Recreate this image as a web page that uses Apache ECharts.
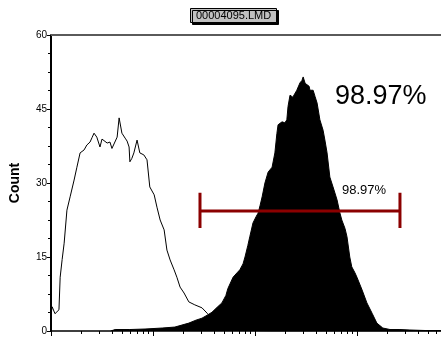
<!DOCTYPE html>
<html>
<head>
<meta charset="utf-8">
<script src="https://cdn.jsdelivr.net/npm/echarts@6/dist/echarts.min.js"></script>
<style>
  html, body { margin: 0; padding: 0; background: #fff; }
  #chart { width: 441px; height: 338px; }
</style>
</head>
<body>
<div id="chart"></div>
<script>
// 通道值 (256 通道 / 十进位, 对数显示)
const stainedChannel = [150, 161, 198, 236, 279, 311, 346, 364, 379, 392, 404, 417, 429, 439, 444, 457, 467, 474, 482, 487, 494, 499, 507, 515, 520, 525, 530, 537, 545, 550, 555, 562, 567, 570, 575, 580, 587, 592, 595, 600, 607, 612, 617, 625, 630, 633, 638, 643, 648, 650, 658, 663, 668, 675, 683, 688, 693, 700, 708, 718, 725, 730, 738, 743, 750, 755, 763, 768, 781, 793, 806, 818, 833, 851, 876, 901, 939, 979];
const stainedCount = [0, 0.3, 0.3, 0.4, 0.6, 0.8, 1.6, 2.2, 2.6, 3.2, 3.8, 4.8, 5.7, 7.2, 8.6, 10.9, 11.8, 12.4, 13.6, 15.0, 17.3, 19.1, 21.9, 23.2, 23.9, 25.5, 27.2, 30.0, 32.2, 32.6, 33.2, 36.1, 40.0, 41.8, 42.0, 42.4, 42.2, 42.8, 45.5, 47.8, 47.4, 47.0, 48.8, 50.3, 50.8, 51.5, 50.2, 50.5, 49.6, 48.8, 48.8, 47.5, 46.2, 42.8, 40.7, 38.5, 36.1, 31.2, 29.2, 26.6, 24.0, 22.5, 20.8, 19.1, 15.0, 13.0, 11.8, 10.9, 8.3, 5.7, 3.6, 1.6, 0.6, 0.3, 0.3, 0.2, 0.1, 0.1];

const controlChannel = [0, 3, 8, 10, 15, 20, 23, 28, 33, 40, 48, 58, 65, 73, 83, 90, 98, 103, 108, 115, 123, 128, 133, 141, 148, 153, 158, 166, 171, 178, 186, 191, 196, 198, 203, 208, 216, 223, 233, 241, 248, 259, 266, 274, 284, 291, 299, 309, 316, 324, 334, 346, 361, 379, 392, 404, 424, 449, 487, 550, 979];
const controlCount = [3.5, 4.9, 5.2, 3.5, 3.2, 4.3, 10.9, 14.5, 17.8, 24.5, 27.2, 30.6, 33.2, 36.1, 36.7, 37.7, 38.3, 39.2, 40.1, 39.3, 37.3, 38.9, 38.7, 38.1, 38.3, 37.0, 37.3, 39.3, 43.2, 40.1, 39.1, 38.5, 37.3, 34.3, 35.0, 36.1, 38.7, 36.1, 35.7, 34.7, 29.2, 27.6, 25.1, 22.5, 20.5, 16.4, 14.4, 12.4, 10.9, 8.9, 7.7, 5.9, 5.3, 4.7, 3.6, 2.5, 1.2, 0.5, 0.1, 0, 0];

// 门 (gate)
const gateRange = [374, 876];
const gateLevel = 24.3;
const gateCap = [20.9, 28.0];
const gatePercent = '98.97%';

// 坐标轴刻度
const yTicks = [0, 15, 30, 45, 60];
const xMajorTicks = [0, 256, 512, 768];
const xMinorTicks = [77, 122, 154, 179, 199, 216, 231, 244, 333, 378, 410, 435, 455, 472, 487, 500, 589, 634, 666, 691, 711, 728, 743, 756, 845, 890, 922, 947, 967];

const fileName = '00004095.LMD';
const font = 'Liberation Sans, Arial, sans-serif';

const zip = (xs, ys) => xs.map((x, i) => [x, ys[i]]);

let myChart = echarts.init(document.getElementById('chart'));
myChart.setOption({
  animation: false,
  title: {
    text: fileName,
    left: 190,
    top: 8,
    padding: [2, 6],
    backgroundColor: '#c0c0c0',
    borderColor: '#000',
    borderWidth: 1,
    shadowColor: '#000',
    shadowOffsetX: 2,
    shadowOffsetY: 2,
    shadowBlur: 0,
    textStyle: { fontFamily: font, fontSize: 11, fontWeight: 'normal', color: '#000' },
  },
  grid: { left: 51, right: 0, top: 35, bottom: 7 },
  xAxis: [
    {
      // 次刻度
      type: 'value', position: 'bottom', min: 0, max: 979,
      axisLine: { lineStyle: { color: '#000', width: 1.5 } },
      axisTick: { customValues: xMinorTicks, length: 3, lineStyle: { color: '#000' } },
      axisLabel: { show: false },
      splitLine: { show: false },
    },
    {
      // 主刻度
      type: 'value', position: 'bottom', min: 0, max: 979,
      axisLine: { show: false },
      axisTick: { customValues: xMajorTicks, length: 5, lineStyle: { color: '#000' } },
      axisLabel: { show: false },
      splitLine: { show: false },
    },
    {
      // 顶部边线
      type: 'value', position: 'top', min: 0, max: 979,
      axisLine: { lineStyle: { color: '#5a5a5a', width: 2 } },
      axisTick: { show: false },
      axisLabel: { show: false },
      splitLine: { show: false },
    },
  ],
  yAxis: {
    type: 'value', min: 0, max: 60, interval: 15,
    name: 'Count',
    nameLocation: 'middle',
    nameGap: 29,
    nameTextStyle: { fontFamily: font, fontSize: 14, fontWeight: 'bold', color: '#000' },
    axisLine: { show: true, lineStyle: { color: '#000', width: 2 } },
    axisTick: { length: 4, lineStyle: { color: '#000' } },
    minorTick: { show: true, splitNumber: 4, length: 3, lineStyle: { color: '#000' } },
    axisLabel: { customValues: yTicks, fontFamily: font, fontSize: 10, color: '#000', margin: 4 },
    splitLine: { show: false },
  },
  series: [
    {
      name: 'stained', type: 'line', symbol: 'none',
      data: zip(stainedChannel, stainedCount),
      lineStyle: { color: '#000', width: 1 },
      areaStyle: { color: '#000', opacity: 1 },
      z: 2,
    },
    {
      name: 'control', type: 'line', symbol: 'none',
      data: zip(controlChannel, controlCount),
      lineStyle: { color: '#000', width: 1 },
      z: 3,
    },
    {
      name: 'gate', type: 'line', symbol: 'none',
      data: [[gateRange[0], gateLevel], [gateRange[1], gateLevel]],
      lineStyle: { color: '#8b0000', width: 3 },
      z: 4,
    },
    {
      name: 'gateL', type: 'line', symbol: 'none',
      data: [[gateRange[0], gateCap[0]], [gateRange[0], gateCap[1]]],
      lineStyle: { color: '#8b0000', width: 3 },
      z: 4,
    },
    {
      name: 'gateR', type: 'line', symbol: 'none',
      data: [[gateRange[1], gateCap[0]], [gateRange[1], gateCap[1]]],
      lineStyle: { color: '#8b0000', width: 3 },
      z: 4,
    },
  ],
  graphic: [
    {
      type: 'text', x: 335, y: 97, z: 10,
      style: { text: gatePercent, fontFamily: font, fontSize: 27, fill: '#000', verticalAlign: 'middle' },
    },
    {
      type: 'text', x: 342, y: 190, z: 10,
      style: { text: gatePercent, fontFamily: font, fontSize: 13, fill: '#000', verticalAlign: 'middle' },
    },
  ],
});
</script>
</body>
</html>
